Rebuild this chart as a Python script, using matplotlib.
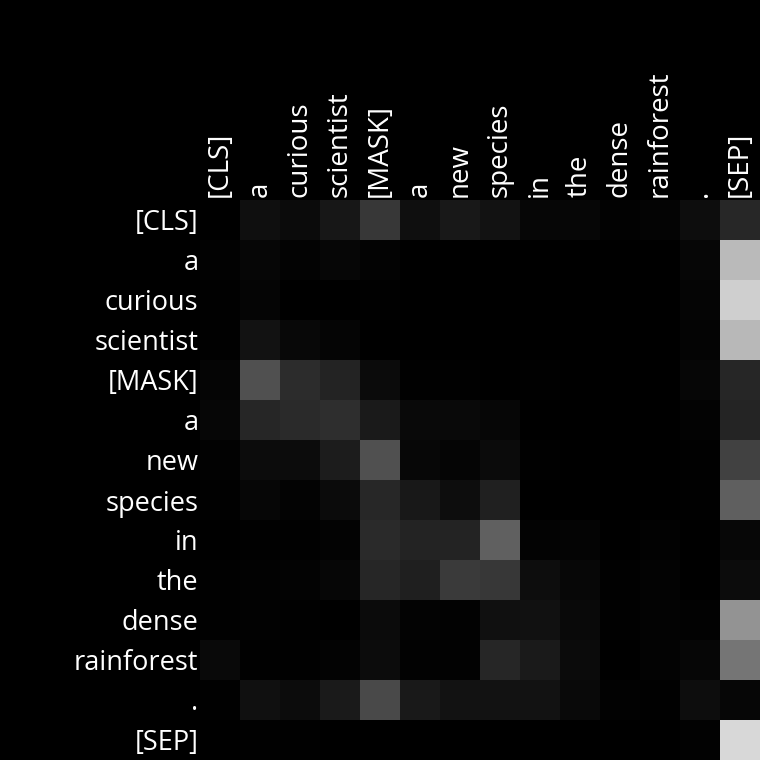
import matplotlib
matplotlib.use("Agg")
import matplotlib.pyplot as plt
import numpy as np

tokens = ["[CLS]", "a", "curious", "scientist", "[MASK]", "a", "new",
          "species", "in", "the", "dense", "rainforest", ".", "[SEP]"]

attn_cls        = [.000, .059, .043, .090, .216, .059, .094, .071, .027, .027, .008, .016, .051, .153]
attn_a1         = [.008, .027, .012, .027, .012, 0, 0, 0, 0, 0, 0, 0, .027, .729]
attn_curious    = [.004, .020, 0, 0, .004, 0, 0, 0, 0, 0, 0, 0, .020, .812]
attn_scientist  = [.004, .071, .035, .020, 0, 0, 0, 0, 0, 0, 0, 0, .016, .722]
attn_mask       = [.020, .314, .173, .137, .043, .004, .004, 0, .004, 0, 0, 0, .027, .149]
attn_a2         = [.027, .149, .165, .180, .102, .039, .039, .027, 0, 0, 0, 0, .012, .141]
attn_new        = [.008, .047, .047, .110, .314, .031, .020, .043, .004, 0, 0, 0, .004, .259]
attn_species    = [.004, .027, .012, .043, .153, .094, .051, .125, 0, 0, 0, 0, .004, .373]
attn_in         = [0, .004, .004, .012, .165, .137, .137, .376, .012, .016, 0, .008, 0, .031]
attn_the        = [.004, .008, .012, .027, .149, .122, .227, .216, .051, .031, .004, .012, 0, .047]
attn_dense      = [.004, .008, .004, 0, .043, .012, .008, .063, .067, .039, .004, .012, .008, .576]
attn_rainforest = [.039, .004, .004, .012, .047, .008, .008, .149, .102, .043, 0, .012, .024, .459]
attn_period     = [.004, .063, .047, .102, .290, .098, .071, .071, .071, .039, .008, .004, .051, .027]
attn_sep        = [0, .004, .004, 0, 0, 0, 0, 0, 0, 0, 0, 0, .008, .847]

matrix = np.array([attn_cls, attn_a1, attn_curious, attn_scientist, attn_mask,
                   attn_a2, attn_new, attn_species, attn_in, attn_the,
                   attn_dense, attn_rainforest, attn_period, attn_sep])

plt.rcParams['font.family'] = ['Open Sans', 'DejaVu Sans']

fig = plt.figure(figsize=(7.6, 7.6), dpi=100, facecolor='black')
ax = fig.add_axes([200/760, 0, 560/760, 560/760])
ax.set_facecolor('black')
ax.imshow(matrix, cmap='gray', vmin=0, vmax=1, aspect='auto', interpolation='nearest')

ax.set_xticks(range(len(tokens)))
ax.set_yticks(range(len(tokens)))
ax.set_xticklabels(tokens, rotation=90, fontsize=20, color='white')
ax.set_yticklabels(tokens, fontsize=19.5, color='white')
ax.xaxis.tick_top()
ax.tick_params(axis='y', length=0, pad=1)
ax.tick_params(axis='x', length=0, pad=2.5)
for s in ax.spines.values():
    s.set_visible(False)

fig.savefig("out.png", dpi=100, facecolor='black')
